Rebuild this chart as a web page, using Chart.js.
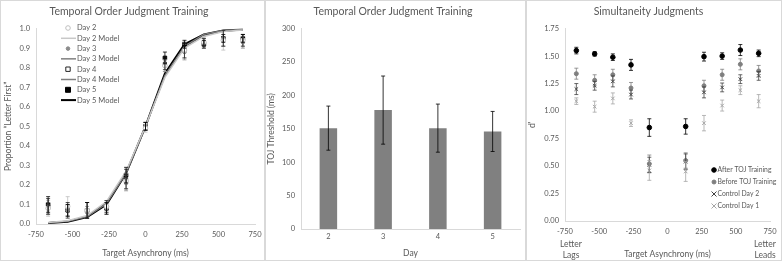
<!DOCTYPE html>
<html>
<head>
<meta charset="utf-8">
<script src="https://cdn.jsdelivr.net/npm/chart.js@4"></script>
<style>
  body { margin: 0; background: #fff; }
  .panel { position: absolute; top: 0; height: 261px; border: 1px solid #d9d9d9; box-sizing: border-box; }
  canvas { position: absolute; left: 0; top: 0; }
</style>
</head>
<body>
<div class="panel" style="left:0;width:265px"><canvas id="toj" width="265" height="262"></canvas></div>
<div class="panel" style="left:265px;width:261px"><canvas id="thr" width="261" height="262"></canvas></div>
<div class="panel" style="left:526px;width:256px"><canvas id="sj" width="256" height="262"></canvas></div>
<script>
// ## data ##
const asyn = [-667, -533, -400, -267, -133, 0, 133, 267, 400, 533, 667];

const day2 = [0.08, 0.09, 0.07, 0.09, 0.22, 0.49, 0.81, 0.89, 0.93, 0.94, 0.94];
const day2Err = [0.04, 0.05, 0.04, 0.03, 0.04, 0.02, 0.03, 0.04, 0.03, 0.05, 0.03];
const day3 = [0.08, 0.07, 0.06, 0.08, 0.21, 0.50, 0.81, 0.88, 0.93, 0.95, 0.93];
const day3Err = [0.03, 0.03, 0.03, 0.03, 0.04, 0.02, 0.03, 0.04, 0.02, 0.04, 0.03];
const day4 = [0.09, 0.07, 0.07, 0.09, 0.23, 0.50, 0.82, 0.89, 0.93, 0.95, 0.94];
const day4Err = [0.04, 0.04, 0.04, 0.03, 0.05, 0.02, 0.03, 0.04, 0.02, 0.04, 0.03];
const day5 = [0.10, 0.07, 0.07, 0.08, 0.25, 0.50, 0.85, 0.92, 0.92, 0.95, 0.95];
const day5Err = [0.04, 0.03, 0.04, 0.03, 0.04, 0.02, 0.03, 0.02, 0.02, 0.02, 0.02];

const day2Model = [0.008, 0.017, 0.043, 0.115, 0.27, 0.50, 0.75, 0.90, 0.96, 0.985, 0.993];
const day3Model = [0.007, 0.015, 0.040, 0.110, 0.265, 0.50, 0.755, 0.905, 0.965, 0.985, 0.993];
const day4Model = [0.006, 0.014, 0.038, 0.105, 0.26, 0.50, 0.76, 0.91, 0.97, 0.99, 0.995];
const day5Model = [0.005, 0.012, 0.035, 0.100, 0.26, 0.50, 0.77, 0.92, 0.97, 0.99, 0.995];

const days = ["2", "3", "4", "5"];
const threshold = [151, 178, 151, 146];
const thresholdErr = [33, 51, 36, 30];

const sjAsyn = [-667, -533, -400, -267, -133, 133, 267, 400, 533, 667];
const afterToj = [1.55, 1.52, 1.49, 1.42, 0.85, 0.86, 1.495, 1.50, 1.555, 1.525];
const afterTojErr = [0.03, 0.02, 0.03, 0.05, 0.08, 0.07, 0.04, 0.03, 0.05, 0.03];
const beforeToj = [1.34, 1.28, 1.33, 1.21, 0.52, 0.55, 1.23, 1.33, 1.425, 1.365];
const beforeTojErr = [0.05, 0.05, 0.05, 0.05, 0.08, 0.07, 0.05, 0.05, 0.05, 0.05];
const ctrlDay2 = [1.20, 1.23, 1.27, 1.15, 0.51, 0.54, 1.17, 1.215, 1.29, 1.32];
const ctrlDay2Err = [0.05, 0.04, 0.05, 0.04, 0.07, 0.07, 0.05, 0.04, 0.04, 0.04];
const ctrlDay1 = [1.09, 1.04, 1.115, 0.89, 0.46, 0.45, 0.89, 1.05, 1.19, 1.09];
const ctrlDay1Err = [0.03, 0.05, 0.05, 0.03, 0.09, 0.09, 0.07, 0.05, 0.04, 0.06];

const FONT = "Lato";
const TXT = "#595959";
const AXIS = "#d9d9d9";

Chart.defaults.font.family = FONT;
Chart.defaults.color = TXT;
Chart.defaults.animation = false;

function pts(xs, ys) {
  return xs.map((x, i) => ({ x: x, y: ys[i] }));
}

function drawMarker(ctx, style, x, y, r, fill, stroke) {
  ctx.save();
  ctx.fillStyle = fill;
  ctx.strokeStyle = stroke;
  ctx.lineWidth = 1;
  ctx.beginPath();
  if (style === "circle") {
    ctx.arc(x, y, r, 0, Math.PI * 2);
    ctx.fill();
    ctx.stroke();
  } else if (style === "rect") {
    ctx.rect(x - r, y - r, r * 2, r * 2);
    ctx.fill();
    ctx.stroke();
  } else if (style === "crossRot") {
    ctx.moveTo(x - r, y - r); ctx.lineTo(x + r, y + r);
    ctx.moveTo(x - r, y + r); ctx.lineTo(x + r, y - r);
    ctx.stroke();
  }
  ctx.restore();
}

// error bars drawn from the dataset's errors array
const errorBars = {
  id: "errorBars",
  afterDatasetsDraw(chart) {
    const ctx = chart.ctx;
    const ys = chart.scales.y;
    chart.data.datasets.forEach((ds, i) => {
      if (!ds.errors) return;
      const meta = chart.getDatasetMeta(i);
      ctx.save();
      ctx.strokeStyle = ds.errorColor || ds.borderColor;
      ctx.lineWidth = 0.8;
      meta.data.forEach((el, j) => {
        const v = ds.data[j];
        const val = typeof v === "object" ? v.y : v;
        const e = ds.errors[j];
        const top = ys.getPixelForValue(val + e);
        const bot = ys.getPixelForValue(val - e);
        const cap = ds.capWidth || 2;
        ctx.beginPath();
        ctx.moveTo(el.x, top); ctx.lineTo(el.x, bot);
        ctx.moveTo(el.x - cap, top); ctx.lineTo(el.x + cap, top);
        ctx.moveTo(el.x - cap, bot); ctx.lineTo(el.x + cap, bot);
        ctx.stroke();
      });
      ctx.restore();
    });
  },
};

// legend drawn inside the plot area
const boxLegend = {
  id: "boxLegend",
  afterDraw(chart, args, opts) {
    const ctx = chart.ctx;
    ctx.save();
    ctx.font = opts.size + "px " + FONT;
    ctx.fillStyle = TXT;
    ctx.textBaseline = "middle";
    chart.data.datasets.forEach((ds, i) => {
      const y = opts.y + i * opts.step;
      if (ds.showLine) {
        ctx.save();
        ctx.strokeStyle = ds.borderColor;
        ctx.lineWidth = ds.borderWidth;
        ctx.beginPath();
        ctx.moveTo(opts.x - 7, y); ctx.lineTo(opts.x + 8, y);
        ctx.stroke();
        ctx.restore();
      } else {
        drawMarker(ctx, ds.pointStyle, opts.x, y, ds.pointRadius, ds.pointBackgroundColor, ds.pointBorderColor);
      }
      ctx.fillStyle = TXT;
      ctx.fillText(ds.label, opts.x + opts.gap, y);
    });
    ctx.restore();
  },
};

// extra text under the x axis of the SJ panel
const sideLabels = {
  id: "sideLabels",
  afterDraw(chart) {
    const ctx = chart.ctx;
    const xs = chart.scales.x;
    ctx.save();
    ctx.font = "8.5px " + FONT;
    ctx.fillStyle = TXT;
    ctx.textAlign = "center";
    ctx.textBaseline = "middle";
    const l = xs.getPixelForValue(-750) + 6;
    const r = xs.getPixelForValue(750) - 5;
    ctx.fillText("Letter", l, 243);
    ctx.fillText("Lags", l, 254);
    ctx.fillText("Letter", r, 243);
    ctx.fillText("Leads", r, 254);
    ctx.restore();
  },
};

function axisCommon() {
  return {
    grid: { display: false, drawOnChartArea: false, tickLength: 3, tickColor: AXIS },
    border: { color: AXIS, width: 1 },
    ticks: { font: { size: 7.5 }, color: TXT, padding: 3 },
  };
}

function titleOpts(text) {
  return {
    display: true,
    text: text,
    font: { size: 10.5, weight: "normal" },
    color: TXT,
    padding: { top: 4, bottom: 11 },
  };
}

// ## panel 1: TOJ psychometric functions ##
function marker(label, ys, errs, style, r, fill, stroke) {
  return {
    label: label, data: pts(asyn, ys), errors: errs, errorColor: stroke,
    pointStyle: style, pointRadius: r, pointBackgroundColor: fill,
    pointBorderColor: stroke, borderColor: stroke, pointBorderWidth: 1,
    showLine: false, order: 0,
  };
}
function model(label, ys, color, width) {
  return {
    label: label, data: pts(asyn, ys), showLine: true, pointRadius: 0,
    borderColor: color, borderWidth: width, tension: 0, order: 1,
  };
}

const x1 = axisCommon();
x1.min = -750; x1.max = 750;
x1.ticks.stepSize = 250;
x1.title = { display: true, text: "Target Asynchrony (ms)", font: { size: 8.5 }, color: TXT, padding: { top: 6 } };
x1.afterFit = (s) => { s.height = 38; };
const y1 = axisCommon();
y1.min = 0; y1.max = 1;
y1.ticks.stepSize = 0.1;
y1.ticks.callback = (v) => v.toFixed(1);
y1.title = { display: true, text: "Proportion \u201cLetter First\u201d", font: { size: 8.5 }, color: TXT, padding: 0 };
y1.afterFit = (s) => { s.width = 33; };

new Chart(document.getElementById("toj"), {
  type: "scatter",
  data: {
    datasets: [
      marker("Day 2", day2, day2Err, "circle", 2.3, "#ffffff", "#bfbfbf"),
      model("Day 2 Model", day2Model, "#c8c8c8", 1.5),
      marker("Day 3", day3, day3Err, "circle", 1.8, "#8c8c8c", "#8c8c8c"),
      model("Day 3 Model", day3Model, "#404040", 1),
      marker("Day 4", day4, day4Err, "rect", 2.2, "#ffffff", "#262626"),
      model("Day 4 Model", day4Model, "#7f7f7f", 1.5),
      marker("Day 5", day5, day5Err, "rect", 2.5, "#000000", "#000000"),
      model("Day 5 Model", day5Model, "#000000", 2),
    ],
  },
  options: {
    responsive: false,
    layout: { padding: { left: 2, right: 11, bottom: 1 } },
    plugins: {
      title: titleOpts("Temporal Order Judgment Training"),
      legend: { display: false },
      tooltip: { enabled: false },
      boxLegend: { x: 67, y: 27, step: 10.3, gap: 9, size: 7.5 },
    },
    scales: { x: x1, y: y1 },
  },
  plugins: [errorBars, boxLegend],
});

// ## panel 2: TOJ thresholds ##
const x2 = axisCommon();
x2.title = { display: true, text: "Day", font: { size: 8.5 }, color: TXT, padding: { top: 4 } };
x2.grid.display = true;
x2.grid.drawTicks = false;
x2.afterFit = (s) => { s.height = 33; };
const y2 = axisCommon();
y2.min = 0; y2.max = 300;
y2.ticks.stepSize = 50;
y2.title = { display: true, text: "TOJ Threshold (ms)", font: { size: 8.5 }, color: TXT, padding: 0 };
y2.afterFit = (s) => { s.width = 35; };

new Chart(document.getElementById("thr"), {
  type: "bar",
  data: {
    labels: days,
    datasets: [{
      data: threshold, errors: thresholdErr, errorColor: "#000000", capWidth: 2,
      backgroundColor: "#808080", borderWidth: 0,
      barPercentage: 0.32, categoryPercentage: 1,
    }],
  },
  options: {
    responsive: false,
    layout: { padding: { left: 0, right: 7, bottom: 1 } },
    plugins: {
      title: titleOpts("Temporal Order Judgment Training"),
      legend: { display: false },
      tooltip: { enabled: false },
    },
    scales: { x: x2, y: y2 },
  },
  plugins: [errorBars],
});

// ## panel 3: simultaneity judgments ##
function sjSet(label, ys, errs, style, r, color) {
  return {
    label: label, data: pts(sjAsyn, ys), errors: errs, errorColor: color,
    pointStyle: style, pointRadius: r, pointBackgroundColor: color,
    pointBorderColor: color, borderColor: color, pointBorderWidth: 1, showLine: false,
  };
}

const x3 = axisCommon();
x3.min = -750; x3.max = 750;
x3.ticks.stepSize = 250;
x3.title = { display: true, text: "Target Asynchrony (ms)", font: { size: 8.5 }, color: TXT, padding: { top: 7 } };
x3.afterFit = (s) => { s.height = 42; };
const y3 = axisCommon();
y3.min = 0; y3.max = 1.75;
y3.ticks.stepSize = 0.25;
y3.ticks.callback = (v) => v.toFixed(2);
y3.title = { display: true, text: "d'", font: { size: 8.5 }, color: TXT, padding: 0 };
y3.afterFit = (s) => { s.width = 38; };

new Chart(document.getElementById("sj"), {
  type: "scatter",
  data: {
    datasets: [
      sjSet("After TOJ Training", afterToj, afterTojErr, "circle", 2.3, "#000000"),
      sjSet("Before TOJ Training", beforeToj, beforeTojErr, "circle", 2, "#7f7f7f"),
      sjSet("Control Day 2", ctrlDay2, ctrlDay2Err, "crossRot", 2.5, "#404040"),
      sjSet("Control Day 1", ctrlDay1, ctrlDay1Err, "crossRot", 2.5, "#a6a6a6"),
    ],
  },
  options: {
    responsive: false,
    layout: { padding: { left: 0, right: 13, bottom: 0 } },
    plugins: {
      title: titleOpts("Simultaneity Judgments"),
      legend: { display: false },
      tooltip: { enabled: false },
      boxLegend: { x: 187, y: 169, step: 12, gap: 3.5, size: 6.8 },
    },
    scales: { x: x3, y: y3 },
  },
  plugins: [errorBars, boxLegend, sideLabels],
});
</script>
</body>
</html>
